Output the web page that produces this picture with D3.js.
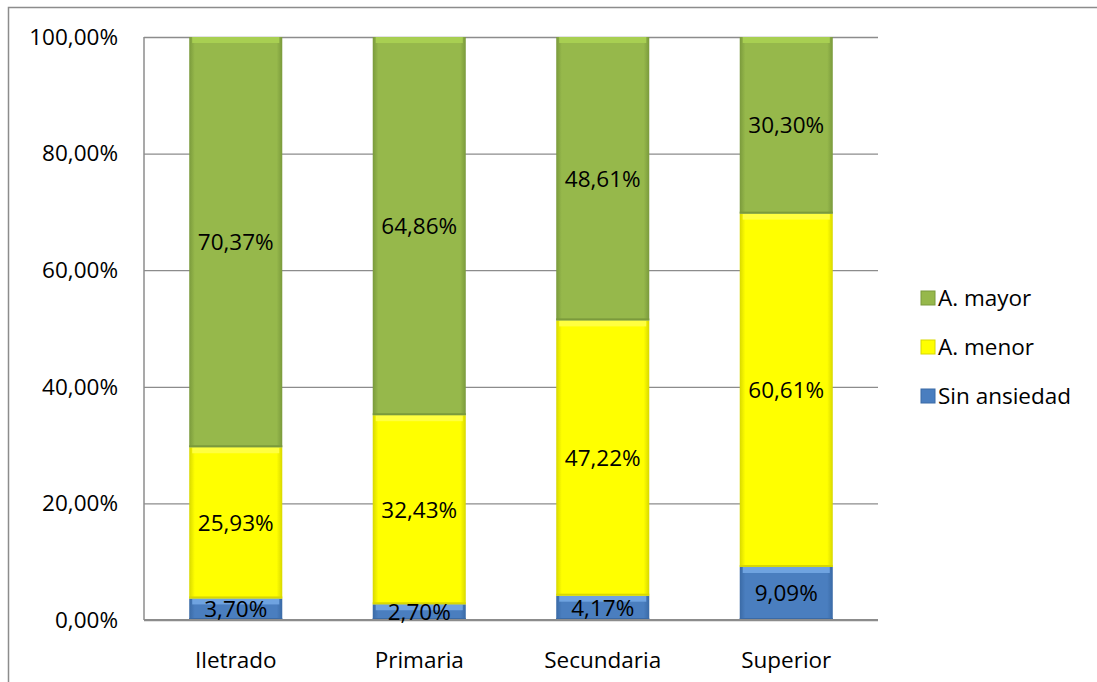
<!DOCTYPE html>
<html>
<head>
<meta charset="utf-8">
<script src="https://cdn.jsdelivr.net/npm/d3@7"></script>
<style>
  body { margin: 0; background: #fff; }
  text { font-family: "Open Sans", "Noto Sans", sans-serif; fill: #000; }
</style>
</head>
<body>
<div id="chart"></div>
<script>
const categories = ["Iletrado", "Primaria", "Secundaria", "Superior"];
const seriesNames = ["Sin ansiedad", "A. menor", "A. mayor"];
const sinAnsiedad = [3.70, 2.70, 4.17, 9.09];
const aMenor = [25.93, 32.43, 47.22, 60.61];
const aMayor = [70.37, 64.86, 48.61, 30.30];
const yTicks = [0, 20, 40, 60, 80, 100];

const W = 1097, H = 682;
const plot = { left: 144, right: 878, top: 37, bottom: 620 };
const fs = "22.5px";

const svg = d3.select("#chart").append("svg").attr("width", W).attr("height", H);

// outer chart border
svg.append("rect")
  .attr("x", 8.5).attr("y", 7.5)
  .attr("width", W + 10).attr("height", H + 10)
  .attr("fill", "none").attr("stroke", "#8c8c8c").attr("stroke-width", 1.5);

const table = categories.map((c, i) => ({
  cat: c, "Sin ansiedad": sinAnsiedad[i], "A. menor": aMenor[i], "A. mayor": aMayor[i]
}));
const stacked = d3.stack().keys(seriesNames)(table);

const x = d3.scaleBand().domain(categories).range([plot.left, plot.right]).paddingInner(0.493).paddingOuter(0.2465);
const y = d3.scaleLinear().domain([0, 100]).range([plot.bottom, plot.top]);

const colors = {
  "Sin ansiedad": { top: "#6fa3e0", base: "#4a7ebf", dark: "#3a6aa6" },
  "A. menor": { top: "#ffff40", base: "#ffff00", dark: "#d8d800" },
  "A. mayor": { top: "#a8cf52", base: "#96b84b", dark: "#7a9a3c" }
};

const defs = svg.append("defs");
seriesNames.forEach((s, i) => {
  const g = defs.append("linearGradient").attr("id", "g" + i).attr("x1", 0).attr("x2", 1).attr("y1", 0).attr("y2", 0);
  g.append("stop").attr("offset", "0%").attr("stop-color", colors[s].dark);
  g.append("stop").attr("offset", "6%").attr("stop-color", colors[s].base);
  g.append("stop").attr("offset", "94%").attr("stop-color", colors[s].base);
  g.append("stop").attr("offset", "100%").attr("stop-color", colors[s].dark);
});

// gridlines
svg.append("g")
  .attr("transform", `translate(${plot.left},0)`)
  .call(d3.axisLeft(y).tickValues(yTicks).tickSize(-(plot.right - plot.left)).tickFormat(""))
  .call(g => g.select(".domain").remove())
  .call(g => g.selectAll("line").attr("stroke", "#8c8c8c").attr("stroke-width", 1.3));

// bars
const layers = svg.append("g").selectAll("g").data(stacked).join("g");
layers.each(function (layer, li) {
  const s = layer.key;
  const g = d3.select(this);
  g.selectAll("rect.seg").data(layer).join("rect")
    .attr("class", "seg")
    .attr("x", d => x(d.data.cat))
    .attr("y", d => y(d[1]))
    .attr("width", x.bandwidth())
    .attr("height", d => y(d[0]) - y(d[1]))
    .attr("fill", `url(#g${li})`);
  // top bevel
  g.selectAll("rect.bev").data(layer).join("rect")
    .attr("class", "bev")
    .attr("x", d => x(d.data.cat) + 3)
    .attr("y", d => y(d[1]))
    .attr("width", x.bandwidth() - 6)
    .attr("height", d => Math.min(6, y(d[0]) - y(d[1])))
    .attr("fill", colors[s].top);
  // bottom shade
  g.selectAll("rect.shd").data(layer).join("rect")
    .attr("class", "shd")
    .attr("x", d => x(d.data.cat))
    .attr("y", d => y(d[0]) - 2)
    .attr("width", x.bandwidth())
    .attr("height", 2)
    .attr("fill", colors[s].dark);
});

// y axis line and bottom axis line
svg.append("line").attr("x1", plot.left).attr("x2", plot.left).attr("y1", plot.top).attr("y2", plot.bottom)
  .attr("stroke", "#8c8c8c").attr("stroke-width", 1.5);
svg.append("line").attr("x1", plot.left).attr("x2", plot.right).attr("y1", plot.bottom).attr("y2", plot.bottom)
  .attr("stroke", "#8c8c8c").attr("stroke-width", 2);

// y tick labels
svg.append("g").selectAll("text").data(yTicks).join("text")
  .attr("x", 118).attr("y", d => y(d)).attr("dy", "0.35em")
  .attr("text-anchor", "end").style("font-size", fs)
  .text(d => d3.format(".2f")(d).replace(".", ",") + "%");

// x labels
svg.append("g").selectAll("text").data(categories).join("text")
  .attr("x", d => x(d) + x.bandwidth() / 2).attr("y", 660).attr("dy", "0.35em")
  .attr("text-anchor", "middle").style("font-size", fs)
  .text(d => d);

// data labels
stacked.forEach(layer => {
  svg.append("g").selectAll("text").data(layer).join("text")
    .attr("x", d => x(d.data.cat) + x.bandwidth() / 2)
    .attr("y", d => (y(d[0]) + y(d[1])) / 2).attr("dy", "0.35em")
    .attr("text-anchor", "middle").style("font-size", fs)
    .text(d => d3.format(".2f")(d[1] - d[0]).replace(".", ",") + "%");
});

// legend
const legendOrder = ["A. mayor", "A. menor", "Sin ansiedad"];
const ly = d3.scalePoint().domain(legendOrder).range([298, 396]);
const leg = svg.append("g").selectAll("g").data(legendOrder).join("g")
  .attr("transform", d => `translate(921,${ly(d)})`);
leg.append("rect").attr("x", 0).attr("y", -7).attr("width", 14).attr("height", 14)
  .attr("fill", d => colors[d].base).attr("stroke", d => colors[d].dark).attr("stroke-width", 1);
leg.append("text").attr("x", 17).attr("dy", "0.35em").style("font-size", fs).text(d => d);
</script>
</body>
</html>
